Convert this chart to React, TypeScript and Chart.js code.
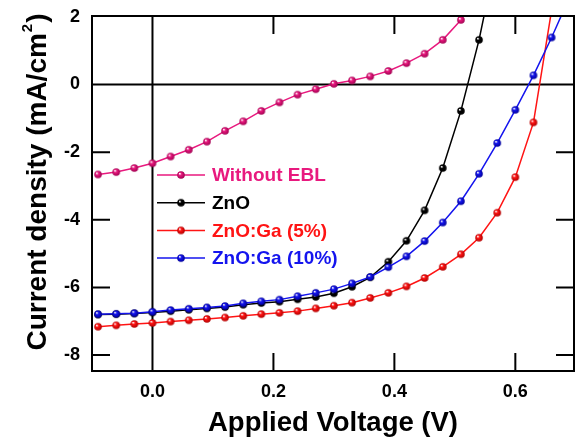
import { useEffect, useRef } from "react";
import { Chart, registerables } from "chart.js";

Chart.register(...registerables);

// ---- Data ----
const voltage = [
  -0.09, -0.06, -0.03, 0, 0.03, 0.06, 0.09, 0.12, 0.15, 0.18, 0.21, 0.24, 0.27,
  0.3, 0.33, 0.36, 0.39, 0.42, 0.45, 0.48, 0.51, 0.54, 0.57, 0.6, 0.63, 0.66, 0.69,
];
const withoutEBL = [
  -2.66, -2.59, -2.47, -2.33, -2.13, -1.93, -1.69, -1.37, -1.09, -0.78, -0.53, -0.3,
  -0.14, 0.02, 0.12, 0.24, 0.4, 0.63, 0.91, 1.32, 1.91,
];
const zno = [
  -6.8, -6.79, -6.77, -6.74, -6.7, -6.66, -6.62, -6.58, -6.51, -6.46, -6.42, -6.35,
  -6.28, -6.17, -5.98, -5.7, -5.24, -4.62, -3.72, -2.47, -0.78, 1.32, 3.9,
];
const znoGa5 = [
  -7.16, -7.12, -7.08, -7.05, -7.01, -6.97, -6.93, -6.89, -6.84, -6.79, -6.75, -6.7,
  -6.62, -6.54, -6.45, -6.31, -6.16, -5.97, -5.72, -5.39, -5.02, -4.53, -3.79, -2.74,
  -1.12, 2.2,
];
const znoGa10 = [
  -6.79, -6.78, -6.76, -6.72, -6.67, -6.63, -6.59, -6.55, -6.47, -6.41, -6.36, -6.26,
  -6.16, -6.05, -5.88, -5.69, -5.4, -5.08, -4.63, -4.08, -3.45, -2.64, -1.73, -0.75,
  0.27, 1.39, 2.6,
];
const seriesNames = ["Without EBL", "ZnO", "ZnO:Ga (5%)", "ZnO:Ga (10%)"];
const seriesValues = [withoutEBL, zno, znoGa5, znoGa10];
const xTickValues = [0, 0.2, 0.4, 0.6];
const yTickValues = [-8, -6, -4, -2, 0, 2];
const xTitle = "Applied Voltage (V)";
const yTitleMain = "Current density (mA/cm";
const yTitleSup = "2";
const yTitleEnd = ")";

// ---- Styles ----
const lineColors = ["#E8197E", "#000000", "#FF1414", "#1414EE"];
const darkColors = ["#A00050", "#000000", "#B00000", "#00009A"];
const drawOrder = [3, 1, 2, 0];
const FONT = "'Liberation Sans', Arial, Helvetica, sans-serif";

function makeSphere(color: string, dark: string, r: number): HTMLCanvasElement {
  const size = Math.ceil(r * 2) + 2;
  const c = document.createElement("canvas");
  c.width = size;
  c.height = size;
  const g = c.getContext("2d")!;
  const cx = size / 2;
  const cy = size / 2;
  const grad = g.createRadialGradient(cx - 1.3, cy - 1.5, 0.3, cx, cy, r);
  grad.addColorStop(0, "rgba(255,255,255,0.9)");
  grad.addColorStop(0.35, color);
  grad.addColorStop(1, dark);
  g.fillStyle = grad;
  g.beginPath();
  g.arc(cx, cy, r, 0, Math.PI * 2);
  g.fill();
  return c;
}

function zeroPadding(scale: any) {
  scale.paddingTop = 0;
  scale.paddingBottom = 0;
  scale.paddingLeft = 0;
  scale.paddingRight = 0;
}

export default function App() {
  const canvasRef = useRef<HTMLCanvasElement | null>(null);

  useEffect(() => {
    if (!canvasRef.current) return;
    const spheres = lineColors.map((c, i) => makeSphere(c, darkColors[i], 3.8));

    const datasets = seriesValues.map((vals, i) => ({
      label: seriesNames[i],
      data: vals.map((v, k) => ({ x: voltage[k], y: v })),
      borderColor: lineColors[i],
      backgroundColor: lineColors[i],
      borderWidth: 1.5,
      pointStyle: spheres[i] as any,
      pointRadius: 4,
      order: drawOrder[i],
      tension: 0,
    }));

    const framePlugin = {
      id: "framePlugin",
      beforeDatasetsDraw(chart: any) {
        const { ctx, chartArea } = chart;
        const xs = chart.scales.x;
        const ys = chart.scales.y;
        ctx.save();
        ctx.strokeStyle = "#000";
        ctx.lineWidth = 2;
        const y0 = ys.getPixelForValue(0);
        const x0 = xs.getPixelForValue(0);
        ctx.beginPath();
        ctx.moveTo(chartArea.left, y0);
        ctx.lineTo(chartArea.right, y0);
        ctx.moveTo(x0, chartArea.top);
        ctx.lineTo(x0, chartArea.bottom);
        ctx.stroke();
        ctx.restore();
      },
      afterDatasetsDraw(chart: any) {
        const { ctx, chartArea } = chart;
        const xs = chart.scales.x;
        const ys = chart.scales.y;
        const tl = 18;
        ctx.save();
        ctx.strokeStyle = "#000";
        ctx.lineWidth = 2;
        ctx.beginPath();
        for (const v of yTickValues) {
          if (v === 0) continue;
          const p = ys.getPixelForValue(v);
          if (p < chartArea.top + 2 || p > chartArea.bottom - 2) continue;
          ctx.moveTo(chartArea.left, p);
          ctx.lineTo(chartArea.left + tl, p);
          ctx.moveTo(chartArea.right, p);
          ctx.lineTo(chartArea.right - tl, p);
        }
        for (const v of xTickValues) {
          if (v === 0) continue;
          const p = xs.getPixelForValue(v);
          ctx.moveTo(p, chartArea.bottom);
          ctx.lineTo(p, chartArea.bottom - tl);
          ctx.moveTo(p, chartArea.top);
          ctx.lineTo(p, chartArea.top + tl);
        }
        ctx.stroke();
        ctx.strokeRect(
          chartArea.left,
          chartArea.top,
          chartArea.right - chartArea.left,
          chartArea.bottom - chartArea.top
        );
        ctx.restore();
      },
      afterDraw(chart: any) {
        const { ctx } = chart;
        // Legend inside the plot
        ctx.save();
        const lx0 = 157;
        const lx1 = 205;
        const tx = 212;
        const ly0 = 175;
        const dy = 27.7;
        ctx.font = `bold 19px ${FONT}`;
        ctx.textBaseline = "middle";
        ctx.textAlign = "left";
        seriesNames.forEach((name, i) => {
          const y = ly0 + i * dy;
          ctx.strokeStyle = lineColors[i];
          ctx.lineWidth = 1.5;
          ctx.beginPath();
          ctx.moveTo(lx0, y);
          ctx.lineTo(lx1, y);
          ctx.stroke();
          const s = spheres[i];
          ctx.drawImage(s, (lx0 + lx1) / 2 - s.width / 2, y - s.height / 2);
          ctx.fillStyle = lineColors[i];
          ctx.fillText(name, tx, y + 1);
        });
        ctx.restore();

        // Y-axis title with superscript
        ctx.save();
        ctx.fillStyle = "#000";
        const mainFont = `bold 28px ${FONT}`;
        const supFont = `bold 15px ${FONT}`;
        ctx.font = mainFont;
        const w1 = ctx.measureText(yTitleMain).width;
        const w3 = ctx.measureText(yTitleEnd).width;
        ctx.font = supFont;
        const w2 = ctx.measureText(yTitleSup).width;
        const total = w1 + w2 + w3 + 2;
        const centerY = 182;
        ctx.translate(46, centerY + total / 2);
        ctx.rotate(-Math.PI / 2);
        ctx.textBaseline = "alphabetic";
        ctx.textAlign = "left";
        ctx.font = mainFont;
        ctx.fillText(yTitleMain, 0, 0);
        ctx.font = supFont;
        ctx.fillText(yTitleSup, w1 + 1, -14);
        ctx.font = mainFont;
        ctx.fillText(yTitleEnd, w1 + w2 + 2, 0);
        ctx.restore();
      },
    };

    const chart = new Chart(canvasRef.current, {
      type: "line",
      data: { datasets: datasets as any },
      options: {
        animation: false,
        responsive: true,
        maintainAspectRatio: false,
        layout: { autoPadding: false, padding: { top: 16, right: 2, left: 0, bottom: 0 } },
        plugins: {
          legend: { display: false },
          tooltip: { enabled: false },
        },
        scales: {
          x: {
            type: "linear",
            min: -0.1,
            max: 0.697,
            grid: { display: false, drawTicks: false },
            border: { display: false },
            afterBuildTicks: (scale: any) => {
              scale.ticks = xTickValues.map((v) => ({ value: v }));
            },
            afterFit: (scale: any) => {
              scale.height = 70;
              zeroPadding(scale);
            },
            ticks: {
              padding: 10,
              color: "#000",
              font: { family: FONT, size: 18, weight: "bold" },
              callback: (v: any) => Number(v).toFixed(1),
              maxRotation: 0,
            },
            title: {
              display: true,
              text: xTitle,
              color: "#000",
              font: { family: FONT, size: 27.5, weight: "bold" },
              padding: { top: 0, bottom: 1 },
            },
          },
          y: {
            type: "linear",
            min: -8.47,
            max: 2.025,
            grid: { display: false, drawTicks: false },
            border: { display: false },
            afterBuildTicks: (scale: any) => {
              scale.ticks = yTickValues.map((v) => ({ value: v }));
            },
            afterFit: (scale: any) => {
              scale.width = 92;
              zeroPadding(scale);
            },
            ticks: {
              padding: 12,
              color: "#000",
              font: { family: FONT, size: 18, weight: "bold" },
              callback: (v: any) => String(v),
            },
          },
        },
      } as any,
      plugins: [framePlugin],
    });

    return () => chart.destroy();
  }, []);

  return (
    <div
      style={{
        position: "fixed",
        left: 0,
        top: 0,
        width: 576,
        height: 441,
        background: "#fff",
      }}
    >
      <canvas ref={canvasRef} />
    </div>
  );
}
